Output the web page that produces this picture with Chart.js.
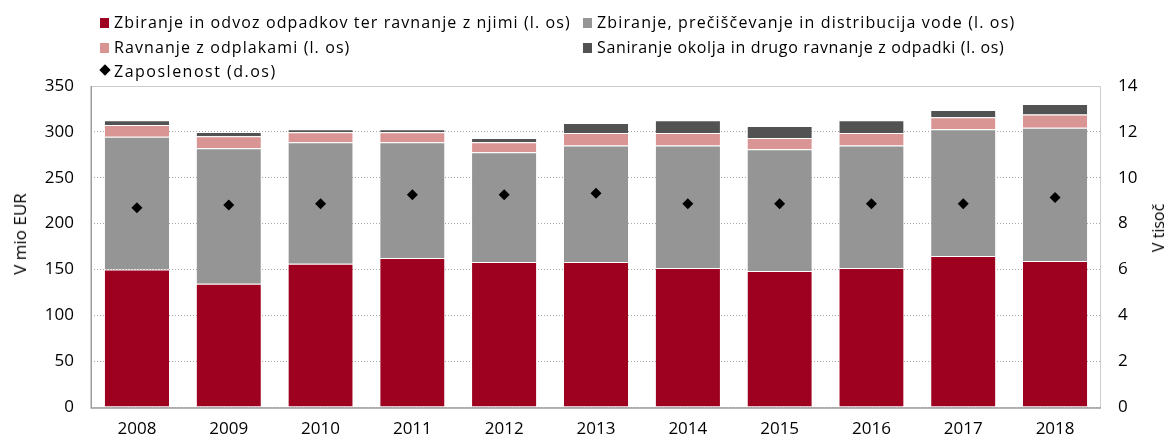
<!DOCTYPE html>
<html>
<head>
<meta charset="utf-8">
<script src="https://cdn.jsdelivr.net/npm/chart.js@4.4.1/dist/chart.umd.min.js"></script>
<style>
  html, body { margin: 0; padding: 0; background: #fff; }
  #wrap { position: relative; width: 1169px; height: 439px; overflow: hidden; }
  #c { position: absolute; left: 0; top: 0; }
  .lg { position: absolute; font-family: "Open Sans", sans-serif; font-size: 16px; letter-spacing: 1.1px; color: #000; white-space: nowrap; line-height: 20px; }
  .sw { position: absolute; width: 9px; height: 10px; }
  .dm { position: absolute; width: 8px; height: 8px; background: #000; transform: rotate(45deg); }
  .ax { position: absolute; font-family: "Open Sans", sans-serif; color: #000; white-space: nowrap; line-height: 20px; transform: translate(-50%, -50%) rotate(-90deg); }
</style>
</head>
<body>
<div id="wrap">
  <canvas id="c" width="1169" height="439"></canvas>
</div>
<script>
const categories = ["2008","2009","2010","2011","2012","2013","2014","2015","2016","2017","2018"];
const seriesNames = [
  "Zbiranje in odvoz odpadkov ter ravnanje z njimi (l. os)",
  "Zbiranje, prečiščevanje in distribucija vode (l. os)",
  "Ravnanje z odplakami (l. os)",
  "Saniranje okolja in drugo ravnanje z odpadki (l. os)",
  "Zaposlenost (d.os)"
];
const axisTitles = ["V mio EUR", "V tisoč"];
const odpadki = [150.0, 134.3, 156.3, 162.5, 158.2, 158.2, 151.6, 148.3, 151.6, 164.7, 159.2];
const voda    = [144.8, 147.7, 132.3, 126.1, 119.5, 126.8, 133.4, 132.7, 133.4, 138.1, 145.4];
const odplake = [12.7, 13.2, 10.9, 10.9, 10.9, 13.8, 13.8, 12.3, 13.8, 13.1, 14.2];
const saniranje = [5.2, 4.7, 3.3, 3.3, 4.7, 10.9, 13.8, 13.1, 13.8, 8.0, 11.7];
const zaposlenost = [8.69, 8.81, 8.86, 9.26, 9.26, 9.32, 8.86, 8.86, 8.86, 8.86, 9.14];
const leftTicks = [0, 50, 100, 150, 200, 250, 300, 350];
const rightTicks = [0, 2, 4, 6, 8, 10, 12, 14];

const colors = ["#9e001f", "#959595", "#d99594", "#525252", "#000000"];
const FONT = "'Open Sans', sans-serif";

// HTML legend (real text)
const wrap = document.getElementById('wrap');
const legendPos = [
  {x: 100, y: 12, ls: 1.1}, {x: 583, y: 12, ls: 1.15},
  {x: 100, y: 37, ls: 1.1}, {x: 583, y: 37, ls: 0.65},
  {x: 100, y: 61, ls: 1.5}
];
seriesNames.forEach((name, i) => {
  const p = legendPos[i];
  let mk;
  if (i === 4) {
    mk = document.createElement('div');
    mk.className = 'dm';
    mk.style.left = (p.x + 1) + 'px';
    mk.style.top = (p.y + 5) + 'px';
  } else {
    mk = document.createElement('div');
    mk.className = 'sw';
    mk.style.background = colors[i];
    mk.style.left = p.x + 'px';
    mk.style.top = (p.y + 6) + 'px';
  }
  wrap.appendChild(mk);
  const t = document.createElement('div');
  t.className = 'lg';
  t.textContent = name;
  t.style.left = (p.x + 14) + 'px';
  t.style.top = p.y + 'px';
  t.style.letterSpacing = p.ls + 'px';
  wrap.appendChild(t);
});

// axis titles (real text), rotated to read bottom-to-top
[{text: axisTitles[0], x: 20, y: 234, size: 17}, {text: axisTitles[1], x: 1158, y: 228, size: 16}].forEach(a => {
  const d = document.createElement('div');
  d.className = 'ax';
  d.textContent = a.text;
  d.style.left = a.x + 'px';
  d.style.top = a.y + 'px';
  d.style.fontSize = a.size + 'px';
  wrap.appendChild(d);
});

const frame = {
  id: 'frame',
  beforeDatasetsDraw(chart) {
    const a = chart.chartArea, ctx = chart.ctx;
    ctx.save();
    ctx.strokeStyle = '#cccccc';
    ctx.lineWidth = 1;
    ctx.beginPath();
    ctx.moveTo(Math.round(a.left) + 0.5, Math.round(a.top) + 0.5);
    ctx.lineTo(Math.round(a.right) - 0.5, Math.round(a.top) + 0.5);
    ctx.lineTo(Math.round(a.right) - 0.5, Math.round(a.bottom));
    ctx.stroke();
    ctx.restore();
  },
  afterDatasetsDraw(chart) {
    const a = chart.chartArea, ctx = chart.ctx;
    ctx.save();
    ctx.strokeStyle = '#9c9c9c';
    ctx.lineWidth = 1.5;
    ctx.beginPath();
    ctx.moveTo(Math.round(a.left) + 0.25, Math.round(a.top));
    ctx.lineTo(Math.round(a.left) + 0.25, Math.round(a.bottom) + 1);
    ctx.lineTo(a.right, Math.round(a.bottom) + 1);
    ctx.stroke();
    ctx.restore();
  }
};

const barCommon = {
  borderColor: 'rgba(255,255,255,0.55)',
  borderWidth: {top: 1, left: 0, right: 0, bottom: 0},
  borderSkipped: false,
  barPercentage: 0.7,
  categoryPercentage: 1.0,
  yAxisID: 'y',
  order: 1
};

new Chart(document.getElementById('c'), {
  type: 'bar',
  data: {
    labels: categories,
    datasets: [
      Object.assign({label: seriesNames[0], data: odpadki, backgroundColor: colors[0]}, barCommon),
      Object.assign({label: seriesNames[1], data: voda, backgroundColor: colors[1]}, barCommon),
      Object.assign({label: seriesNames[2], data: odplake, backgroundColor: colors[2]}, barCommon),
      Object.assign({label: seriesNames[3], data: saniranje, backgroundColor: colors[3]}, barCommon),
      {
        type: 'line', label: seriesNames[4], data: zaposlenost, yAxisID: 'y1',
        showLine: false, pointStyle: 'rectRot', pointRadius: 5.5, pointHoverRadius: 5.5,
        backgroundColor: '#000', borderColor: '#000', borderWidth: 0, order: 0
      }
    ]
  },
  plugins: [frame],
  options: {
    responsive: false,
    animation: false,
    devicePixelRatio: 1,
    layout: { padding: { top: 86, left: 0, right: 0, bottom: 0 } },
    plugins: { legend: { display: false }, tooltip: { enabled: false } },
    scales: {
      x: {
        stacked: true,
        grid: { display: false, drawTicks: false },
        border: { display: false },
        ticks: { font: { family: FONT, size: 17 }, color: '#000', padding: 12, maxRotation: 0 },
        afterFit(s) { s.height = 32; }
      },
      y: {
        stacked: true,
        position: 'left',
        min: 0, max: 350,
        afterBuildTicks(s) { s.ticks = leftTicks.map(v => ({value: v})); },
        grid: { color: '#a8a8a8', drawTicks: false, lineWidth: 1 },
        border: { display: false, dash: [1, 2] },
        ticks: { font: { family: FONT, size: 17 }, color: '#000', padding: 17 },
        afterFit(s) { s.width = 91; }
      },
      y1: {
        position: 'right',
        min: 0, max: 14,
        afterBuildTicks(s) { s.ticks = rightTicks.map(v => ({value: v})); },
        grid: { display: false, drawTicks: false },
        border: { display: false },
        ticks: { font: { family: FONT, size: 17 }, color: '#000', padding: 17 },
        afterFit(s) { s.width = 68; }
      }
    }
  }
});
</script>
</body>
</html>
